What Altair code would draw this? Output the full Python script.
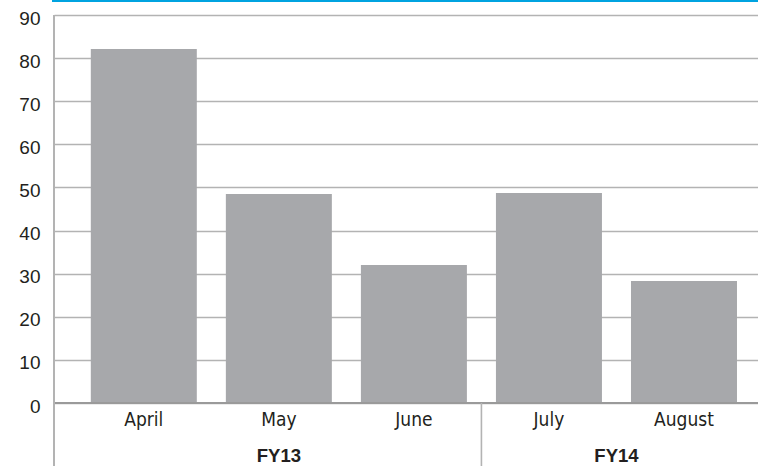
import altair as alt
import pandas as pd

months = ["April", "May", "June", "July", "August"]
values = [82.1, 48.5, 32.0, 48.7, 28.3]
fiscal_years = ["FY13", "FY13", "FY13", "FY14", "FY14"]
y_ticks = [0, 10, 20, 30, 40, 50, 60, 70, 80, 90]

X_DOMAIN = [-0.628, 4.511]
W, H = 704, 388

df = pd.DataFrame({"pos": list(range(len(months))), "month": months,
                   "value": values, "fy": fiscal_years})

# group centres and separators
grp = df.groupby("fy", sort=False)["pos"].agg(["min", "max"]).reset_index()
grp["lo"] = (grp["min"] - 0.5).clip(lower=X_DOMAIN[0])
grp["hi"] = (grp["max"] + 0.5).clip(upper=X_DOMAIN[1])
grp["center"] = (grp["lo"] + grp["hi"]) / 2
sep = pd.DataFrame({"pos": list(grp["hi"].iloc[:-1])})

xs = alt.Scale(domain=X_DOMAIN, nice=False, zero=False)
ys = alt.Scale(domain=[0, 90], nice=False)
TXT = "#231f20"
NARROW = "'Liberation Sans Narrow', 'DejaVu Sans Condensed', Roboto, sans-serif"

bars = alt.Chart(df).mark_bar(size=106, color="#a7a8ab").encode(
    x=alt.X("pos:Q", scale=xs, axis=None),
    y=alt.Y("value:Q", scale=ys, axis=alt.Axis(
        values=y_ticks, grid=True, gridColor="#b3b3b3", gridWidth=1.6,
        domain=False, ticks=False, labelFontSize=19, labelFont="Liberation Sans",
        labelColor=TXT, labelPadding=14, labelOffset=3, title=None)),
)

baseline = alt.Chart(df).mark_rule(color="#9a9a9a", strokeWidth=1.6).encode(
    y=alt.datum(0), x=alt.value(0), x2=alt.value(W))

topline = alt.Chart(df).mark_rule(color="#00a3e0", strokeWidth=2).encode(
    y=alt.value(-14), x=alt.value(-2), x2=alt.value(W))

leftline = alt.Chart(df).mark_rule(color="#b3b3b3", strokeWidth=1.6).encode(
    x=alt.value(0), y=alt.value(0), y2=alt.value(451))

seprule = alt.Chart(sep).mark_rule(color="#b3b3b3", strokeWidth=1.6).encode(
    x=alt.X("pos:Q", scale=xs), y=alt.value(H), y2=alt.value(451))

month_txt = alt.Chart(df).mark_text(
    font=NARROW, fontSize=19, color=TXT, baseline="alphabetic"
).encode(x=alt.X("pos:Q", scale=xs), y=alt.value(411), text="month:N")

fy_txt = alt.Chart(grp).mark_text(
    font="Liberation Sans", fontSize=18.5, fontWeight="bold", color=TXT,
    baseline="alphabetic"
).encode(x=alt.X("center:Q", scale=xs), y=alt.value(447), text="fy:N")

chart = alt.layer(bars, baseline, topline, leftline, seprule, month_txt, fy_txt).properties(
    width=W, height=H,
    autosize=alt.AutoSizeParams(type="none"),
    padding={"left": 54, "top": 15, "right": 0, "bottom": 63},
).configure_view(stroke=None)

chart.save("out.html", embed_options={"renderer": "svg", "actions": False})
